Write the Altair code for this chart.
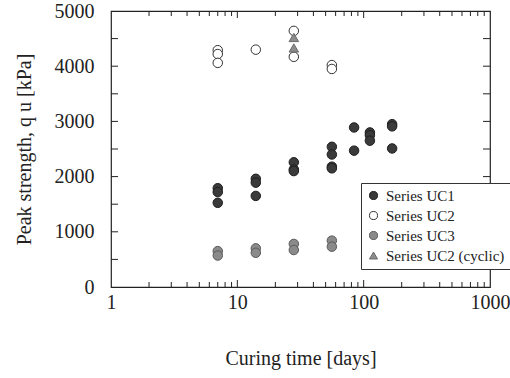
import altair as alt
import pandas as pd

# ---- data ----
uc1_days = [7, 7, 7, 14, 14, 14, 28, 28, 28, 56, 56, 56, 56, 84, 84, 112, 112, 112, 168, 168, 168]
uc1_qu = [1790, 1720, 1525, 1960, 1890, 1650, 2260, 2130, 2100, 2540, 2400, 2180, 2150, 2890, 2470, 2800, 2750, 2650, 2950, 2910, 2510]
uc2_days = [7, 7, 7, 14, 28, 28, 56, 56]
uc2_qu = [4290, 4220, 4060, 4300, 4640, 4170, 4020, 3950]
uc3_days = [7, 7, 14, 14, 28, 28, 56, 56]
uc3_qu = [650, 570, 700, 620, 780, 670, 840, 730]
cyc_days = [28, 28]
cyc_qu = [4520, 4330]

series_names = ["Series UC1", "Series UC2", "Series UC3", "Series UC2 (cyclic)"]
x_labels = [1, 10, 100, 1000]
y_labels = [0, 500, 1000, 1500, 2000, 2500, 3000, 3500, 4000, 4500, 5000]
x_minor = [2, 3, 4, 5, 6, 7, 8, 9, 20, 30, 40, 50, 60, 70, 80, 90, 200, 300, 400, 500, 600, 700, 800, 900]
x_major = [10, 100]
y_major = [500, 1000, 1500, 2000, 2500, 3000, 3500, 4000, 4500]

rows = []
for name, ds, qs in zip(series_names, [uc1_days, uc2_days, uc3_days, cyc_days], [uc1_qu, uc2_qu, uc3_qu, cyc_qu]):
    for d, q in zip(ds, qs):
        rows.append({"series": name, "days": d, "qu": q, "order": series_names.index(name)})
df = pd.DataFrame(rows)

W, H = 379, 276
FONT = "Liberation Serif"

xscale = alt.Scale(type="log", domain=[1, 1000], nice=False)
yscale = alt.Scale(domain=[0, 5000], nice=False, zero=False)

fills = ["#3a3a3a", "#ffffff", "#8a8a8a", "#8c8c8c"]
strokes = ["#1e1e1e", "#333333", "#5a5a5a", "#6a6a6a"]
shapes = ["circle", "circle", "circle", "triangle-up"]

legend = alt.Legend(
    title=None, orient="none", legendX=250, legendY=172,
    labelFont=FONT, labelFontSize=15, labelColor="#222", labelOffset=5,
    symbolSize=65, symbolStrokeWidth=1, rowPadding=4,
    strokeColor="#333", fillColor="white", padding=5, labelLimit=300,
    symbolOpacity=1,
)

points = alt.Chart(df).mark_point(filled=True, size=90, opacity=1, strokeWidth=1).encode(
    x=alt.X("days:Q", scale=xscale,
            axis=alt.Axis(values=x_labels, format="d", title="Curing time [days]", ticks=False, tickSize=0,
                          domain=False, grid=False, labelPadding=5, labelFont=FONT, labelFontSize=20,
                          labelColor="#222", titleFont=FONT, titleFontSize=20, titleFontWeight="normal",
                          titleColor="#222", titlePadding=36, labelFlush=False)),
    y=alt.Y("qu:Q", scale=yscale,
            axis=alt.Axis(values=y_labels, format="d", title="Peak strength, q u [kPa]", ticks=False, tickSize=0,
                          domain=False, grid=False, labelPadding=17, labelFont=FONT, labelFontSize=20,
                          labelColor="#222", titleFont=FONT, titleFontSize=20, titleFontWeight="normal",
                          titleColor="#222", titlePadding=20, labelFlush=False)),
    fill=alt.Fill("series:N", scale=alt.Scale(domain=series_names, range=fills), legend=legend, sort=series_names),
    stroke=alt.Stroke("series:N", scale=alt.Scale(domain=series_names, range=strokes), legend=legend, sort=series_names),
    shape=alt.Shape("series:N", scale=alt.Scale(domain=series_names, range=shapes), legend=legend, sort=series_names),
    order="order:Q",
)

xmin_df = pd.DataFrame({"v": x_minor})
xmaj_df = pd.DataFrame({"v": x_major})
ymaj_df = pd.DataFrame({"v": y_major})

def xticks(data, ln):
    base = alt.Chart(data).mark_rule(color="#222", strokeWidth=1)
    b = base.encode(x=alt.X("v:Q", scale=xscale), y=alt.value(H), y2=alt.value(H - ln))
    t = base.encode(x=alt.X("v:Q", scale=xscale), y=alt.value(0), y2=alt.value(ln))
    return b + t

def yticks(data, ln):
    base = alt.Chart(data).mark_rule(color="#222", strokeWidth=1)
    l = base.encode(y=alt.Y("v:Q", scale=yscale), x=alt.value(0), x2=alt.value(ln))
    r = base.encode(y=alt.Y("v:Q", scale=yscale), x=alt.value(W), x2=alt.value(W - ln))
    return l + r

chart = alt.layer(
    xticks(xmin_df, 5), xticks(xmaj_df, 7), yticks(ymaj_df, 7), points
).properties(
    width=W, height=H,
    autosize=alt.AutoSizeParams(type="none"),
    padding={"left": 111, "top": 11, "right": 20, "bottom": 91},
    background="white",
).configure_view(stroke="#222", strokeWidth=1.2)

chart.save("out.html", embed_options={"renderer": "svg", "actions": False})
